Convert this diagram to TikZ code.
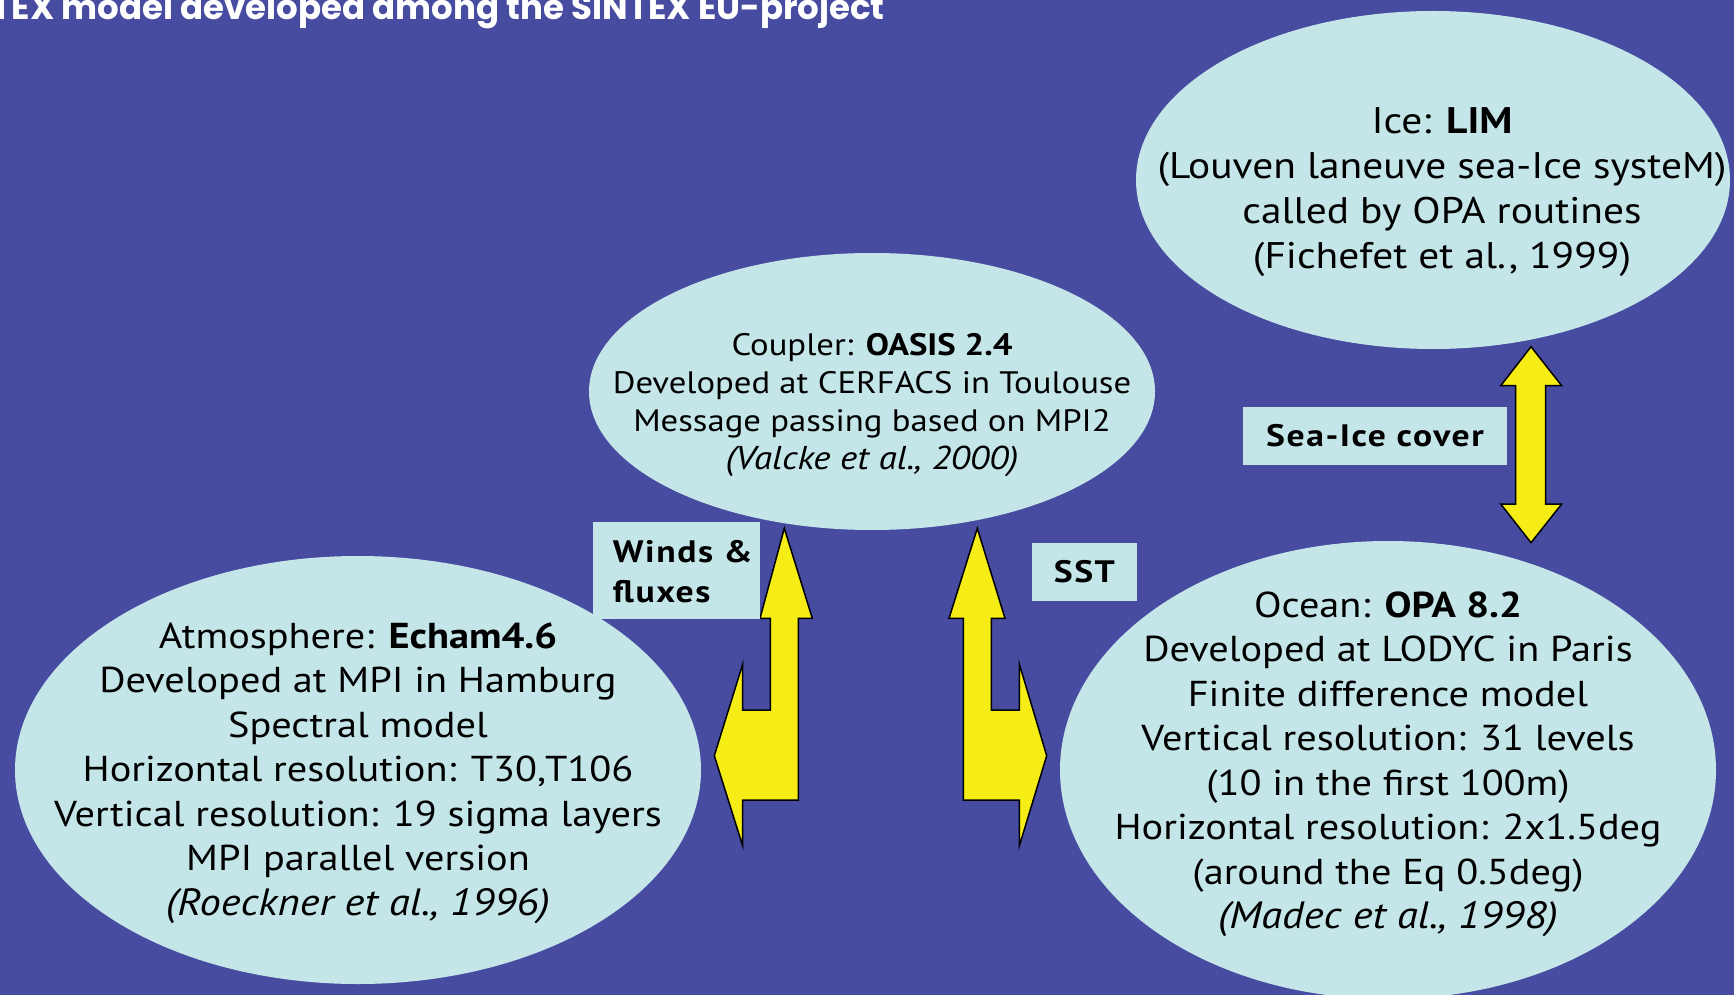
\documentclass[tikz,border=0pt]{standalone}
\usepackage{fontspec}
\setmainfont{PT Sans}[FakeStretch=1.12]
\newfontfamily\labelfont{PT Sans}[FakeStretch=1.15, LetterSpace=5]
\newfontfamily\titlefont{Poppins}
\usetikzlibrary{shapes.geometric}
\definecolor{bgc}{RGB}{72,76,160}
\definecolor{lightc}{RGB}{197,230,233}
\definecolor{yel}{RGB}{246,236,22}
\newcommand{\refit}[1]{{\fontsize{38}{44.5}\selectfont\itshape #1}}
\tikzset{
  blob/.style={ellipse, fill=lightc, draw=none, inner sep=0pt},
  bodytext/.style={align=center, inner sep=0pt, text=black, font=\fontsize{36}{44.5}\selectfont},
  smalltext/.style={align=center, inner sep=0pt, text=black, font=\fontsize{31}{38}\selectfont},
  labelbox/.style={fill=lightc, draw=none, inner sep=0pt},
  labeltext/.style={inner sep=0pt, text=black, font=\labelfont\bfseries\fontsize{31}{40}\selectfont},
  bigarrow/.style={fill=yel, draw=black, line width=1.5pt, line join=miter}
}
\begin{document}
\begin{tikzpicture}[x=1pt,y=-1pt]
\fill[bgc] (0,0) rectangle (1734,995);
\useasboundingbox (0,0) rectangle (1734,995);
\clip (0,0) rectangle (1734,995);

% title
\node[anchor=base east, text=white, inner sep=0pt, font=\titlefont\bfseries\fontsize{34}{34}\selectfont] (title) at (885,20) {TEX model developed among the SINTEX EU-project};

% ellipses
\node[blob, minimum width=686pt, minimum height=428pt] (atm) at (358,770) {};
\node[blob, minimum width=566pt, minimum height=277pt] (cpl) at (872,391.5) {};
\node[blob, minimum width=594pt, minimum height=338pt] (ice) at (1433,180) {};
\node[blob, minimum width=656pt, minimum height=458pt] (ocn) at (1388,770) {};

% texts
\node[bodytext] (atmt) at (358,773) {Atmosphere: \textbf{Echam4.6}\\Developed at MPI in Hamburg\\Spectral model\\Horizontal resolution: T30,T106\\Vertical resolution: 19 sigma layers\\MPI parallel version\\\refit{(Roeckner et al., 1996)}};
\node[smalltext] (cplt) at (872,405) {Coupler: \textbf{OASIS 2.4}\\Developed at CERFACS in Toulouse\\Message passing based on MPI2\\{\fontsize{33}{38}\selectfont\itshape (Valcke et al., 2000)}};
\node[bodytext, font=\fontsize{37}{45}\selectfont] (icet) at (1442,192.5) {Ice: \textbf{LIM}\\(Louven laneuve sea-Ice systeM)\\called by OPA routines\\(Fichefet et al., 1999)};
\node[bodytext] (ocnt) at (1388,764.5) {Ocean: \textbf{OPA 8.2}\\Developed at LODYC in Paris\\Finite difference model\\Vertical resolution: 31 levels\\(10 in the first 100m)\\Horizontal resolution: 2x1.5deg\\(around the Eq 0.5deg)\\\refit{(Madec et al., 1998)}};

% arrows
\draw[bigarrow] (784.3,528.3) -- (812.3,618.3) -- (798.3,618.3) -- (798.3,800) -- (742.7,800) -- (742.7,846) -- (714.3,755.7) -- (742.7,664) -- (742.7,710) -- (770.3,710) -- (770.3,618.3) -- (760,618.3) -- cycle;
\draw[bigarrow] (977.3,528.3) -- (1005,618.3) -- (991.3,618.3) -- (991.3,710) -- (1019.3,710) -- (1019.3,664) -- (1046.7,755.7) -- (1019.3,846) -- (1019.3,800) -- (963.3,800) -- (963.3,618.3) -- (949,618.3) -- cycle;
\draw[bigarrow] (1531,346.7) -- (1561.7,385.7) -- (1545.7,385.7) -- (1545.7,504) -- (1561.7,504) -- (1531,542.7) -- (1500.7,504) -- (1515.7,504) -- (1515.7,385.7) -- (1500.7,385.7) -- cycle;

% labels
\node[labelbox, minimum width=167pt, minimum height=97pt] (winds) at (676.5,570.5) {};
\node[labeltext, anchor=west, align=left] (windst) at (612.7,572) {Winds \&\\fluxes};
\node[labelbox, minimum width=264pt, minimum height=58pt] (seaice) at (1375,436) {};
\node[labeltext] (seaicet) at (seaice.center) {Sea-Ice cover};
\node[labelbox, minimum width=105pt, minimum height=58pt] (sst) at (1084.4,572) {};
\node[labeltext] (sstt) at (sst.center) {SST};
\end{tikzpicture}
\end{document}
